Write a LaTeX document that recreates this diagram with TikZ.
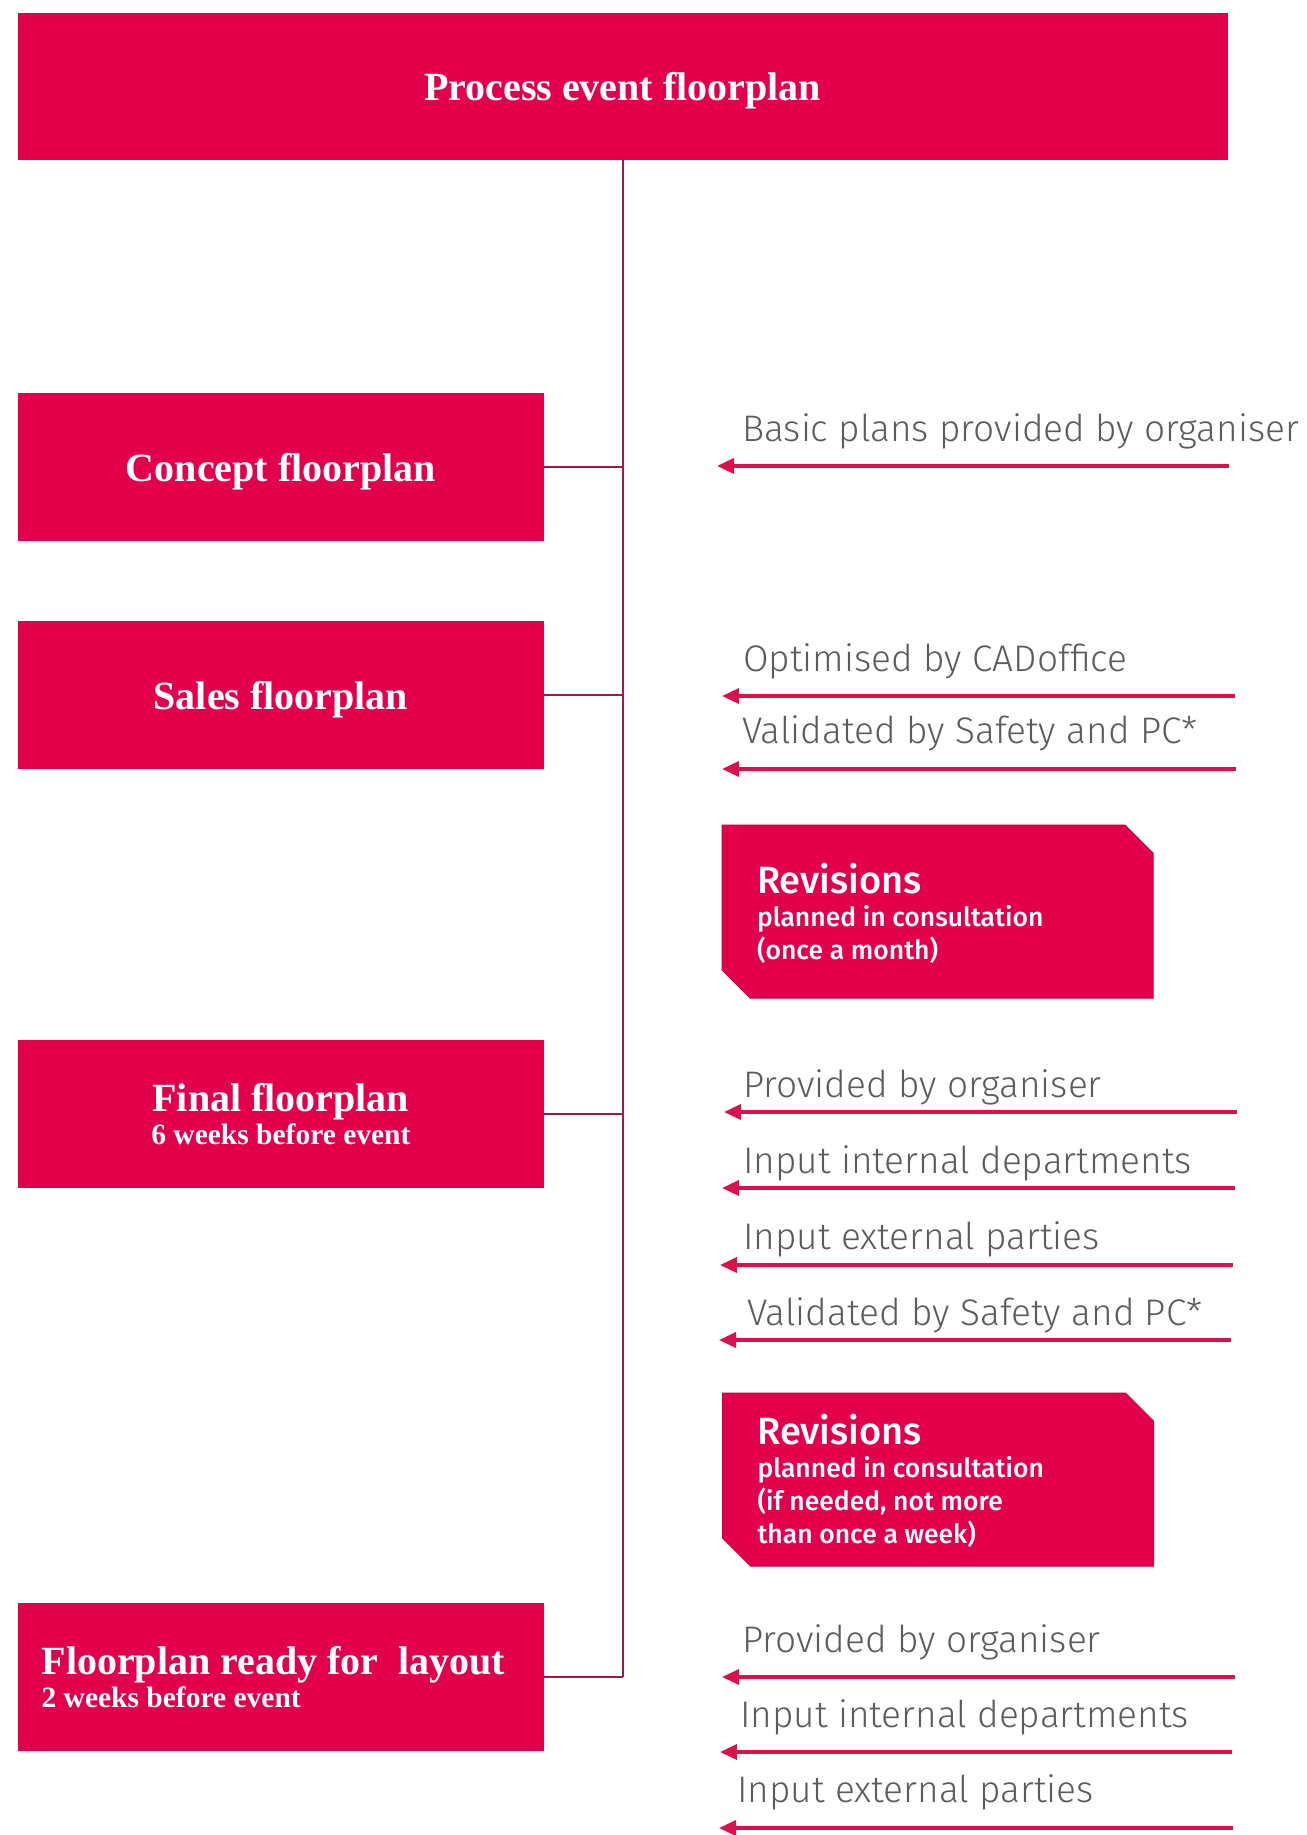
\documentclass[tikz,border=0pt]{standalone}
\usepackage{fontspec}
\setmainfont{Liberation Serif}
\newfontfamily\thinfont{Fira Sans Light}
\newfontfamily\revfont{Fira Sans Medium}
\usepackage{tikz}
\usetikzlibrary{shapes.misc}
\usetikzlibrary{arrows.meta}
\definecolor{boxred}{HTML}{E2004A}
\definecolor{linkred}{HTML}{9E1B45}
\definecolor{arrowred}{HTML}{D8124C}
\definecolor{notegray}{HTML}{5C5C5C}

\begin{document}
\begin{tikzpicture}[x=1pt, y=-1pt,
  redbox/.style={fill=boxred, text=white, minimum width=526.6pt, minimum height=148pt, inner sep=0pt, font=\bfseries\fontsize{40}{33}\selectfont},
  revbox/.style={chamfered rectangle, chamfered rectangle corners={north east,south west}, chamfered rectangle xsep=14pt, chamfered rectangle ysep=14pt, fill=boxred, draw=boxred!88!black, line width=1pt, text=white, minimum width=403pt, minimum height=173pt, align=flush left, text width=361pt, inner xsep=21pt, inner ysep=0pt, font=\revfont\fontsize{26.5}{33}\selectfont},
  link/.style={draw=linkred, line width=2.2pt},
  feed/.style={draw=arrowred, line width=3.5pt, -{Triangle[length=17pt,width=15pt]}},
  note/.style={anchor=base west, text=notegray, inner sep=0pt, font=\thinfont\fontsize{37}{40}\selectfont}]
\useasboundingbox[fill=white] (0,0) rectangle (1306,1835);
\node[redbox, minimum width=1210pt, minimum height=147pt, text depth=0pt] (process) at (622.6,86.6) {Process event floorplan};
\node[redbox, text depth=0pt] (concept) at (280.9,467) {Concept floorplan};
\node[redbox, text depth=0pt] (sales) at (280.9,695.2) {Sales floorplan};
\node[redbox, align=center] (final) at (280.9,1114) {Final floorplan\\{\fontsize{29.5}{33}\selectfont 6 weeks before event}};
\node[redbox, align=flush left, text width=478.6pt, inner xsep=24pt] (ready) at (280.9,1677) {Floorplan ready for\ \ layout\\{\fontsize{29.5}{33}\selectfont 2 weeks before event}};
\coordinate (spineend) at (622.6,1677);
\draw[link] (process.south) -- (spineend);
\draw[link] (concept.east) -- (concept.east -| process.south);
\draw[link] (sales.east) -- (sales.east -| process.south);
\draw[link] (final.east) -- (final.east -| process.south);
\draw[link] (ready.east) -- (spineend);
\node[revbox] (rev1) at (937.5,911.5) {\rule{0pt}{34pt}{\fontsize{38}{33}\selectfont Revisions}\\planned in consultation\\(once a month)};
\node[revbox] (rev2) at (938,1479.5) {\rule{0pt}{32pt}{\fontsize{38}{33}\selectfont Revisions}\\planned in consultation\\(if needed, not more\\than once a week)};
\coordinate (from1) at (1229,466); \coordinate (to1) at (717,466);
\coordinate (from2) at (1235,696); \coordinate (to2) at (722,696);
\coordinate (from3) at (1236,769); \coordinate (to3) at (722,769);
\coordinate (from4) at (1237,1112); \coordinate (to4) at (724,1112);
\coordinate (from5) at (1235,1188); \coordinate (to5) at (722,1188);
\coordinate (from6) at (1233,1265); \coordinate (to6) at (720,1265);
\coordinate (from7) at (1231,1340); \coordinate (to7) at (719,1340);
\coordinate (from8) at (1235,1677); \coordinate (to8) at (722,1677);
\coordinate (from9) at (1232,1752); \coordinate (to9) at (720,1752);
\coordinate (from10) at (1233,1828); \coordinate (to10) at (719,1828);
\draw[feed] (from1) -- (to1);
\draw[feed] (from2) -- (to2);
\draw[feed] (from3) -- (to3);
\draw[feed] (from4) -- (to4);
\draw[feed] (from5) -- (to5);
\draw[feed] (from6) -- (to6);
\draw[feed] (from7) -- (to7);
\draw[feed] (from8) -- (to8);
\draw[feed] (from9) -- (to9);
\draw[feed] (from10) -- (to10);
\node[note] (basic) at (742,441) {Basic plans provided by organiser};
\node[note] (optimised) at (743,671) {Optimised by CADoffice};
\node[note] (validated1) at (742,743) {Validated by Safety and PC*};
\node[note] (provided1) at (743,1097) {Provided by organiser};
\node[note] (internal1) at (743,1173) {Input internal departments};
\node[note] (external1) at (743,1249) {Input external parties};
\node[note] (validated2) at (747,1325) {Validated by Safety and PC*};
\node[note] (provided2) at (742,1652) {Provided by organiser};
\node[note] (internal2) at (740,1727) {Input internal departments};
\node[note] (external2) at (737,1802) {Input external parties};
\end{tikzpicture}
\end{document}
